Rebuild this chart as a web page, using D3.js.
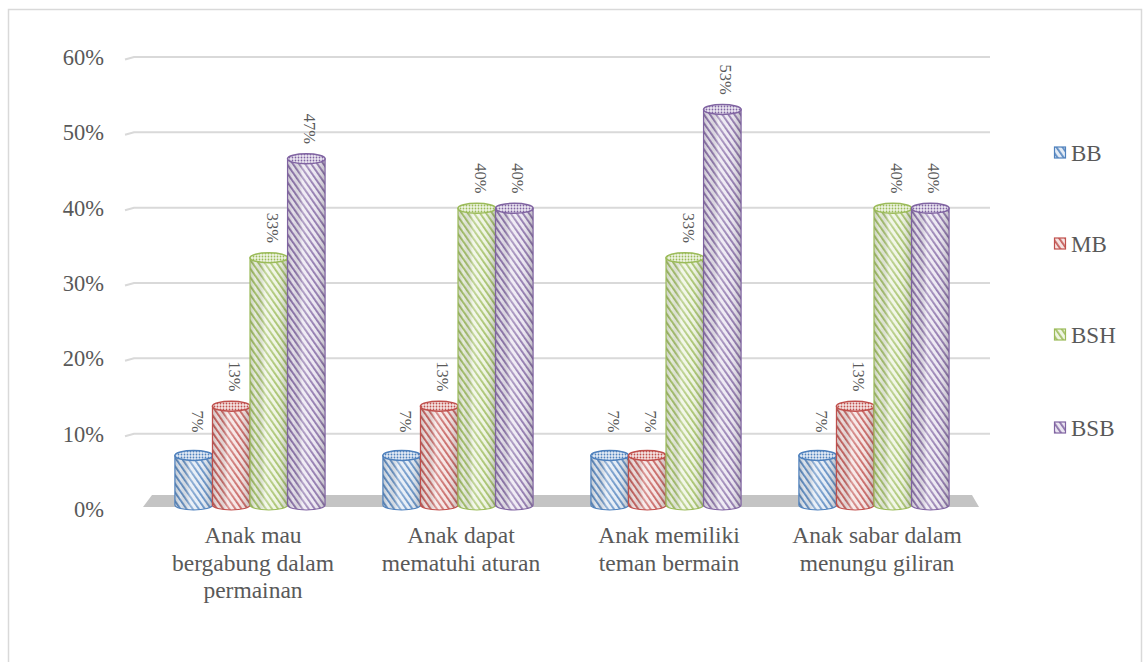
<!DOCTYPE html>
<html><head><meta charset="utf-8">
<script src="https://cdn.jsdelivr.net/npm/d3@7"></script>
<style>body{margin:0;background:#fff}</style>
</head><body>
<svg id="c" width="1143" height="662"></svg>
<script>
const categories = [["Anak mau","bergabung dalam","permainan"],["Anak dapat","mematuhi aturan"],["Anak memiliki","teman bermain"],["Anak sabar dalam","menungu giliran"]];
const seriesNames = ["BB","MB","BSH","BSB"];
const BB  = [6.67, 6.67, 6.67, 6.67];
const MB  = [13.33, 13.33, 6.67, 13.33];
const BSH = [33.33, 40, 33.33, 40];
const BSB = [46.67, 40, 53.33, 40];
const valueLabels = [["7%","13%","33%","47%"],["7%","13%","40%","40%"],["7%","7%","33%","53%"],["7%","13%","40%","40%"]];
const yTicks = [0,10,20,30,40,50,60];
const colors = ["#4F81BD","#C0504D","#9BBB59","#8064A2"];
const light = ["#e3ebf5","#f5e3e2","#eef4e2","#ebe6f1"];

const series = [BB, MB, BSH, BSB];
const FONT = '"Liberation Serif", "Times New Roman", serif';
const svg = d3.select("#c");
const txt = "#595959";

// outer border
svg.append("rect").attr("x",8.5).attr("y",9.5).attr("width",1133).attr("height",700)
  .attr("fill","none").attr("stroke","#d9d9d9").attr("stroke-width",1.5);

const defs = svg.append("defs");
colors.forEach((c,i)=>{
  const p = defs.append("pattern").attr("id","pat"+i).attr("patternUnits","userSpaceOnUse")
    .attr("width",5).attr("height",5).attr("patternTransform","rotate(-35)");
  p.append("rect").attr("width",5).attr("height",5).attr("fill",light[i]);
  p.append("rect").attr("x",0).attr("width",1.8).attr("height",5).attr("fill",c).attr("opacity",0.9);
  const d = defs.append("pattern").attr("id","dot"+i).attr("patternUnits","userSpaceOnUse")
    .attr("width",3).attr("height",3);
  d.append("rect").attr("width",3).attr("height",3).attr("fill",light[i]);
  d.append("circle").attr("cx",1.5).attr("cy",1.5).attr("r",0.9).attr("fill",c);
});
const sh = defs.append("linearGradient").attr("id","shade").attr("x1","0").attr("x2","1").attr("y1","0").attr("y2","0");
[[0,"#000",0.15],[0.15,"#000",0.03],[0.4,"#fff",0.3],[0.7,"#fff",0.05],[1,"#000",0.2]].forEach(s=>
  sh.append("stop").attr("offset",s[0]).attr("stop-color",s[1]).attr("stop-opacity",s[2]));

const yGrid = d3.scaleLinear().domain([0,60]).range([509,57]);
const yBar = d3.scaleLinear().domain([0,60]).range([505,60]);
const x0 = d3.scaleBand().domain(d3.range(categories.length)).range([146,978]).paddingInner(0).paddingOuter(0);
const x1 = d3.scaleBand().domain(d3.range(seriesNames.length)).range([0,x0.bandwidth()]).paddingOuter(0.77).paddingInner(0.0);

// gridlines
yTicks.forEach(t=>{
  if(t===0) return;
  const y = yGrid(t);
  svg.append("path").attr("d",`M125,${y+2.5} L134,${y} L990,${y}`)
    .attr("fill","none").attr("stroke","#d9d9d9").attr("stroke-width",2);
});
// floor
svg.append("path").attr("d","M152,495 L972,495 L979,507 L143,507 Z").attr("fill","#c4c4c4");

// y tick labels
svg.selectAll(".yt").data(yTicks).enter().append("text")
  .attr("x",104).attr("y",d=>yGrid(d)).attr("dy","0.35em").attr("text-anchor","end")
  .style("font-family",FONT).attr("font-size",22.5).attr("fill",txt).text(d=>d+"%");

// bars
const ry = 5;
categories.forEach((cat,ci)=>{
  series.forEach((s,si)=>{
    const v = s[ci];
    const w = x1.bandwidth();
    const bx = x0(ci)+x1(si);
    const cx = bx+w/2;
    const top = yBar(v), base = yBar(0);
    const rx = w/2;
    const g = svg.append("g");
    const body = `M${bx},${top} L${bx},${base} A${rx},${ry} 0 0 0 ${bx+w},${base} L${bx+w},${top} Z`;
    g.append("path").attr("d",body).attr("fill",`url(#pat${si})`);
    g.append("path").attr("d",body).attr("fill","url(#shade)").attr("stroke",colors[si]).attr("stroke-width",1.2);
    g.append("ellipse").attr("cx",cx).attr("cy",top).attr("rx",rx).attr("ry",ry)
      .attr("fill",`url(#dot${si})`).attr("stroke",colors[si]).attr("stroke-width",1.5);
    // value label (rotated)
    const lx = cx-7, ly = top-45;
    svg.append("text").attr("transform",`translate(${lx},${ly}) rotate(90)`)
      .style("font-family",FONT).attr("font-size",16.5).attr("fill",txt).attr("text-anchor","start").attr("dy","-0.3em")
      .text(valueLabels[ci][si]);
  });
  // category label
  const t = svg.append("text").attr("text-anchor","middle").style("font-family",FONT).attr("font-size",23.5).attr("fill",txt);
  cat.forEach((line,li)=>{
    t.append("tspan").attr("x",x0(ci)+x0.bandwidth()/2+3).attr("y",543+li*27.5).text(line);
  });
});

// legend
const legY = [153,244,335,428];
seriesNames.forEach((n,i)=>{
  svg.append("rect").attr("x",1054.5).attr("y",legY[i]-6).attr("width",11).attr("height",11)
    .attr("fill",`url(#pat${i})`).attr("stroke",colors[i]).attr("stroke-width",1.2);
  svg.append("text").attr("x",1071).attr("y",legY[i]).attr("dy","0.35em")
    .style("font-family",FONT).attr("font-size",23).attr("fill",txt).text(n);
});
</script>
</body></html>
